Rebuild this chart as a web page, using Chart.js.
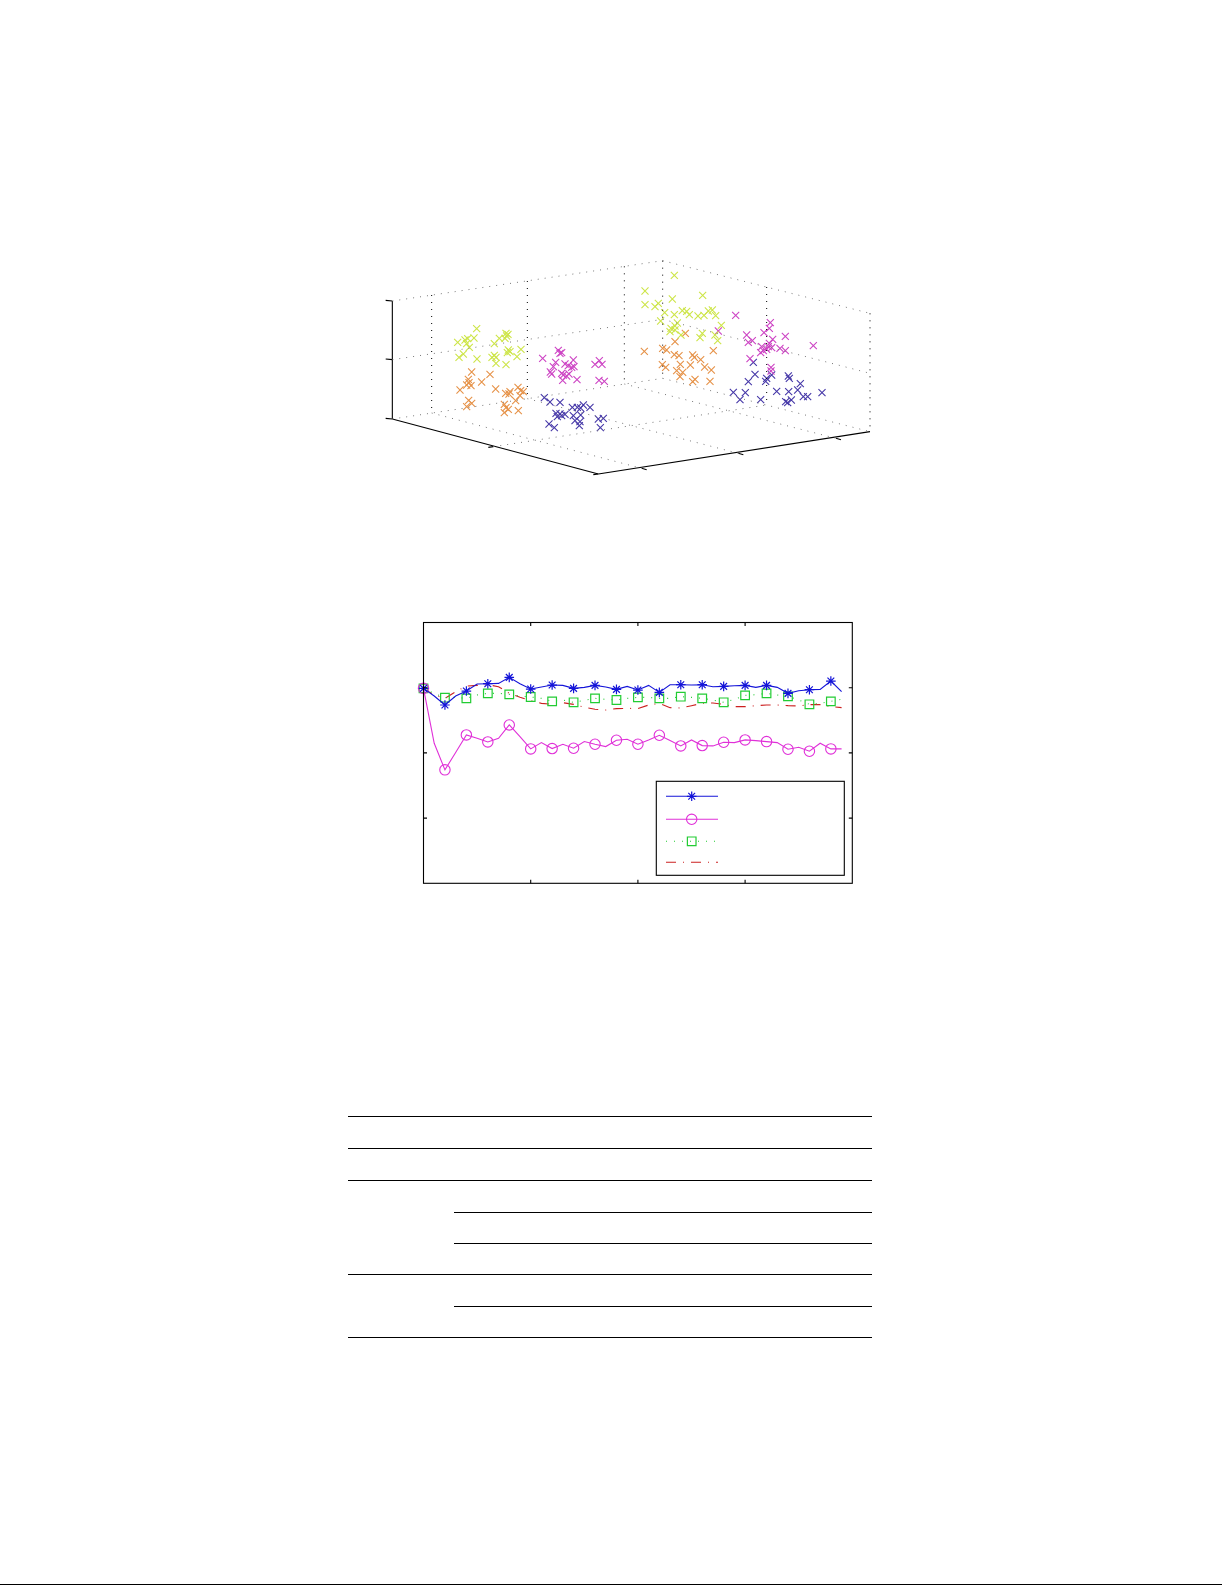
<!DOCTYPE html>
<html>
<head>
<meta charset="utf-8">
<title>chart</title>
<script src="https://cdn.jsdelivr.net/npm/chart.js@4/dist/chart.umd.js"></script>
<style>
  html, body { margin: 0; padding: 0; background: #fff; }
  body { position: relative; width: 1225px; height: 1585px; overflow: hidden; }
  canvas { position: absolute; }
  .rule { position: absolute; height: 1px; background: #000; }
</style>
</head>
<body>
<canvas id="cloud" width="520" height="240" style="left:370px;top:250px"></canvas>
<canvas id="curves" width="450" height="282" style="left:413px;top:612px"></canvas>
<script>
// 3D panel: clusters as they land on the page after projection
const limeCluster = [
  [320,236],[263,277],[285,270],[293,266],[312,264],[290,281],[298,292],[280,312],[267,322],[321,327],
  [388,265],[373,281],[408,250],[410,258],[405,265],[414,253],[453,298],[415,300],[420,305],[412,308],
  [441,320],[373,316],[378,322],[366,322],[378,340],[408,344],
  [913,76],[825,123],[907,147],[998,136],[825,164],[855,170],[865,160],[884,188],[913,194],[937,182],
  [950,184],[958,194],[984,198],[1002,196],[1015,183],[1027,180],[1037,197],[872,213],[1054,226],[922,219],
  [915,228],[903,235],[900,245],[915,240],[933,255],[997,250],[990,263],[1035,255],[1043,272]
]
const orangeCluster = [
  [305,366],[360,373],[295,388],[297,398],[303,407],[290,405],[335,396],[270,420],[377,417],[444,412],
  [420,425],[407,430],[417,432],[460,425],[452,422],[450,437],[437,452],[296,451],[305,460],[290,470],
  [403,463],[408,473],[415,478],[403,488],[445,482],
  [915,275],[946,250],[823,304],[878,295],[890,300],[1030,302],[913,314],[927,317],[968,315],[973,322],
  [992,329],[877,344],[887,352],[931,343],[961,345],[1004,351],[1024,360],[920,362],[938,367],[930,380],
  [975,388],[968,395],[1020,394]
]
const purpleCluster = [
  [565,301],[575,308],[570,310],[518,325],[557,337],[550,350],[585,342],[610,330],[595,347],[605,352],
  [612,350],[675,343],[688,332],[696,343],[545,372],[541,366],[575,370],[580,375],[597,372],[590,378],
  [578,391],[621,389],[687,391],[703,394],
  [1097,196],[1201,218],[1198,235],[1182,248],[1045,243],[1130,255],[1135,277],[1147,272],[1246,259],[1330,287],
  [1208,268],[1198,280],[1195,290],[1205,293],[1175,290],[1172,308],[1180,302],[1190,298],[1230,295],[1246,302],
  [1140,326],[1203,352],[1203,363]
]
const navyCluster = [
  [523,443],[540,456],[570,457],[607,472],[622,472],[640,465],[632,474],[660,472],[570,492],[558,490],
  [562,500],[575,497],[585,493],[610,497],[632,495],[615,512],[630,515],[628,527],[537,522],[553,533],
  [685,507],[700,505],[691,533],
  [1150,337],[1155,373],[1135,395],[1205,375],[1190,385],[1187,394],[1255,378],[1258,385],[1291,401],[1283,420],
  [1090,427],[1126,428],[1110,449],[1172,449],[1220,424],[1256,425],[1300,440],[1313,440],[1356,428],[1247,455],
  [1264,450],[1253,458]
]
const boxEdges = [
  [[67,153],[67,507]],[[67,507],[685,672]],[[685,672],[1500,545]],
  [[47,151],[67,153]],[[47,327],[67,329]],[[47,505],[67,507]],
  [[355,592],[370,590]],[[670,674],[685,672]],
  [[815,655],[830,659]],[[1105,610],[1120,614]],[[1398,565],[1413,569]]
]
const slantGrid = [
  [[67,153],[878,32]],[[878,32],[1500,190]],
  [[67,329],[878,208]],[[878,208],[1500,370]],
  [[67,507],[878,385]],[[878,385],[1500,545]],
  [[185,489],[815,655]],[[472,446],[1105,610]],[[763,402],[1398,565]],
  [[370,590],[1190,465]]
]
const uprightGrid = [
  [[185,135],[185,489]],[[472,93],[472,446]],[[763,49],[763,402]],
  [[878,32],[878,385]],[[1190,111],[1190,465]],[[1500,190],[1500,545]]
]

// line panel: 20 markers, the curves are sampled every half step
const steps = [
  0,0.5,1,1.5,2,2.5,3,3.5,4,4.5,5,5.5,6,6.5,7,7.5,8,8.5,9,9.5,
  10,10.5,11,11.5,12,12.5,13,13.5,14,14.5,15,15.5,16,16.5,17,17.5,18,18.5,19,19.5
]
const starValues = [
  586,563,536,563,578,599,600,601,619,600,584,590,596,595,586,589,595,590,583,592,
  581,595,574,597,597,596,597,591,592,594,595,589,595,589,571,579,582,583,608,576
]
const circleValues = [
  586,421,341,393,446,436,425,436,476,441,404,423,405,418,406,426,418,411,430,433,
  418,431,445,429,413,431,414,413,424,423,431,429,426,423,403,409,397,421,404,404
]
const squareValues = [
  586,571,558,559,556,566,571,571,568,563,560,556,547,551,544,550,556,553,551,556,
  559,559,556,556,561,559,556,551,544,553,565,567,571,566,562,551,538,541,547,553
]
const dashDotValues = [
  586,566,556,576,593,595,597,591,571,559,549,541,538,543,538,529,523,521,525,526,
  525,536,541,528,527,534,541,542,538,531,531,534,536,536,534,533,537,537,531,528
]
const xTicks = [5, 10, 15]
const yTicks = [196, 392, 588]

// table rules
const fullRules = [1116, 1148, 1180, 1274, 1337]
const innerRules = [1212, 1243, 1306]

const toPoints = (list) => list.map(([x, y]) => ({ x, y }))

function clusterSet(list, color) {
  return {
    data: toPoints(list),
    showLine: false,
    pointStyle: 'crossRot',
    pointRadius: 5,
    pointBorderWidth: 1.1,
    pointBorderColor: color,
    pointBackgroundColor: 'transparent'
  }
}

function edgeSet(edge, dash, color) {
  return {
    data: toPoints(edge),
    showLine: true,
    pointRadius: 0,
    borderColor: color,
    borderWidth: dash.length ? 1 : 1.1,
    borderDash: dash
  }
}

new Chart(document.getElementById('cloud'), {
  type: 'scatter',
  data: {
    datasets: [
      ...slantGrid.map((e) => edgeSet(e, [1, 6], '#777')),
      ...uprightGrid.map((e) => edgeSet(e, [1, 6], '#000')),
      ...boxEdges.map((e) => edgeSet(e, [], '#000')),
      clusterSet(limeCluster, '#cde548'),
      clusterSet(orangeCluster, '#e69248'),
      clusterSet(purpleCluster, '#cd44c4'),
      clusterSet(navyCluster, '#4638a8')
    ]
  },
  options: {
    responsive: false,
    animation: false,
    plugins: { legend: { display: false }, tooltip: { enabled: false } },
    layout: { padding: 0, autoPadding: false },
    scales: {
      x: { type: 'linear', display: false, min: 0, max: 1560 },
      y: { type: 'linear', display: false, min: 0, max: 720, reverse: true }
    }
  }
})

function curveSet(values, style) {
  return {
    data: steps.map((x, i) => ({ x, y: values[i] })),
    showLine: true,
    clip: false,
    tension: 0,
    borderColor: style.color,
    borderWidth: 1.1,
    borderDash: style.dash,
    pointStyle: style.marker,
    pointRadius: (ctx) => (ctx.dataIndex % 2 ? 0 : style.size),
    pointBorderWidth: style.markerWidth,
    pointBorderColor: style.color,
    pointBackgroundColor: 'transparent'
  }
}

const curveStyles = [
  { color: '#1414d8', dash: [], marker: 'star', size: 4.8, markerWidth: 1.2, legendY: 796.3 },
  { color: '#e030d8', dash: [], marker: 'circle', size: 5.2, markerWidth: 1.1, legendY: 819.3 },
  { color: '#22cc33', dash: [1, 7], marker: 'rect', size: 6.1, markerWidth: 1.2, legendY: 841.3 },
  { color: '#cc2020', dash: [10, 7, 1, 7], marker: false, size: 0, markerWidth: 0, legendY: 862.3 }
]

// inward ticks, frame and the legend box: the library has no option for these
const framePlugin = {
  id: 'frame',
  afterDraw(chart) {
    const { ctx, chartArea: a, scales } = chart
    const tick = 3.5
    ctx.save()
    ctx.strokeStyle = '#000'
    ctx.lineWidth = 1.1
    ctx.strokeRect(a.left, a.top, a.right - a.left, a.bottom - a.top)
    ctx.beginPath()
    xTicks.forEach((v) => {
      const x = scales.x.getPixelForValue(v)
      ctx.moveTo(x, a.top); ctx.lineTo(x, a.top + tick)
      ctx.moveTo(x, a.bottom); ctx.lineTo(x, a.bottom - tick)
    })
    yTicks.forEach((v) => {
      const y = scales.y.getPixelForValue(v)
      ctx.moveTo(a.left, y); ctx.lineTo(a.left + tick, y)
      ctx.moveTo(a.right, y); ctx.lineTo(a.right - tick, y)
    })
    ctx.stroke()

    // page position of the canvas is 413,612
    ctx.fillStyle = '#fff'
    ctx.fillRect(656.3 - 413, 781.3 - 612, 188, 94)
    ctx.strokeRect(656.3 - 413, 781.3 - 612, 188, 94)
    curveStyles.forEach((s) => {
      const y = s.legendY - 612
      ctx.save()
      ctx.strokeStyle = s.color
      ctx.lineWidth = 1.1
      ctx.setLineDash(s.dash)
      ctx.beginPath()
      ctx.moveTo(666 - 413, y)
      ctx.lineTo(718 - 413, y)
      ctx.stroke()
      ctx.setLineDash([])
      if (s.marker) {
        ctx.fillStyle = 'transparent'
        ctx.lineWidth = s.markerWidth
        Chart.helpers.drawPoint(ctx, { pointStyle: s.marker, radius: s.size, rotation: 0, borderWidth: s.markerWidth }, 691.7 - 413, y)
      }
      ctx.restore()
    })
    ctx.restore()
  }
}

new Chart(document.getElementById('curves'), {
  type: 'scatter',
  data: {
    datasets: [
      curveSet(starValues, curveStyles[0]),
      curveSet(circleValues, curveStyles[1]),
      curveSet(squareValues, curveStyles[2]),
      curveSet(dashDotValues, curveStyles[3])
    ]
  },
  options: {
    responsive: false,
    animation: false,
    plugins: { legend: { display: false }, tooltip: { enabled: false } },
    layout: { padding: { left: 10.5, right: 10.7, top: 10.5, bottom: 10.7 }, autoPadding: false },
    scales: {
      x: { type: 'linear', display: false, min: 0, max: 20 },
      y: { type: 'linear', display: false, min: 0, max: 784 }
    }
  },
  plugins: [framePlugin]
})

function addRule(left, right, top) {
  const div = document.createElement('div')
  div.className = 'rule'
  div.style.left = left + 'px'
  div.style.top = top + 'px'
  div.style.width = right - left + 'px'
  document.body.appendChild(div)
}
fullRules.forEach((y) => addRule(348, 872, y))
innerRules.forEach((y) => addRule(454, 872, y))
addRule(0, 1222, 1584)
</script>
</body>
</html>
